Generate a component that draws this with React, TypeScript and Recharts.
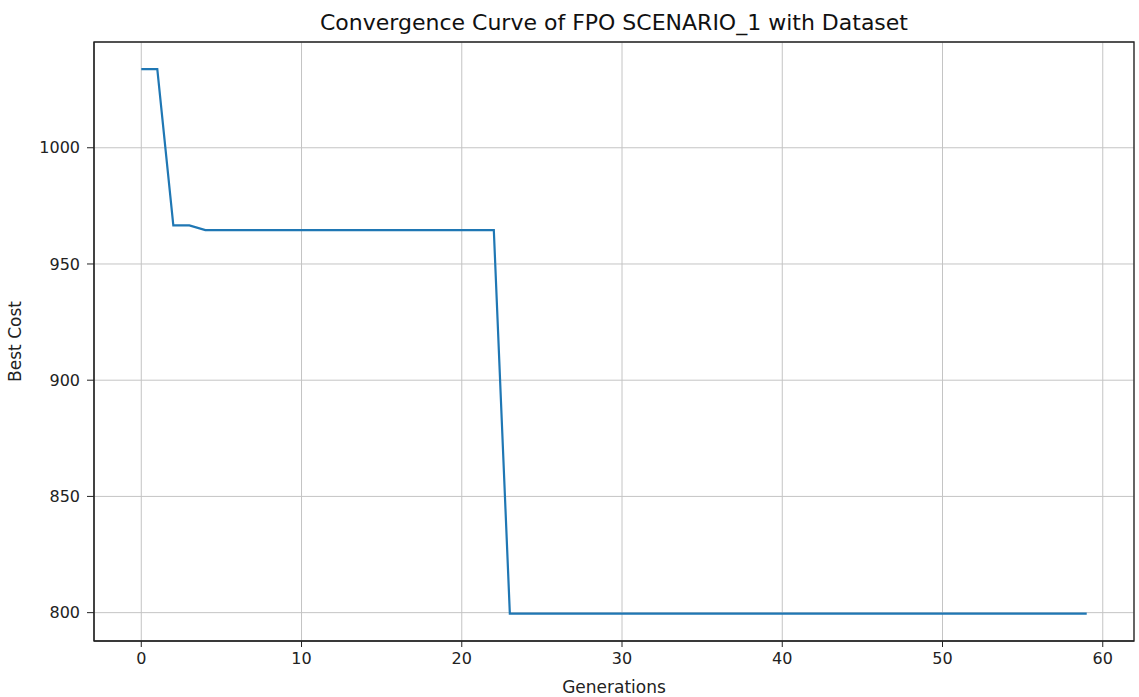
import { LineChart, Line, XAxis, YAxis, CartesianGrid, ReferenceArea, Label } from 'recharts'

// best cost per generation
const bestCost = [
  1033.8, 1033.8, 966.6, 966.6, 964.6, 964.6, 964.6, 964.6, 964.6, 964.6,
  964.6, 964.6, 964.6, 964.6, 964.6, 964.6, 964.6, 964.6, 964.6, 964.6,
  964.6, 964.6, 964.6, 799.6, 799.6, 799.6, 799.6, 799.6, 799.6, 799.6,
  799.6, 799.6, 799.6, 799.6, 799.6, 799.6, 799.6, 799.6, 799.6, 799.6,
  799.6, 799.6, 799.6, 799.6, 799.6, 799.6, 799.6, 799.6, 799.6, 799.6,
  799.6, 799.6, 799.6, 799.6, 799.6, 799.6, 799.6, 799.6, 799.6, 799.6,
]
const xTicks = [0, 10, 20, 30, 40, 50, 60]
const yTicks = [800, 850, 900, 950, 1000]
const X_DOMAIN: [number, number] = [-2.95, 61.95]
const Y_DOMAIN: [number, number] = [787.8, 1045.5]

const chartData = bestCost.map((cost, gen) => ({ gen, cost }))

const FONT = '"DejaVu Sans", sans-serif'
const tickStyle = { fill: '#222', fontSize: 16, fontFamily: FONT }

export default function App() {
  return (
    <div style={{ position: 'absolute', left: 0, top: 0, width: 1139, height: 697, background: '#fff' }}>
      <div
        style={{
          position: 'absolute', left: 94, top: 10, width: 1040, textAlign: 'center',
          fontFamily: FONT, fontSize: 22, color: '#111', lineHeight: '26px',
        }}
      >
        Convergence Curve of FPO SCENARIO_1 with Dataset
      </div>
      <LineChart width={1139} height={697} data={chartData} margin={{ top: 42, right: 5, bottom: 0, left: 0 }}>
        <CartesianGrid stroke="#c4c4c4" strokeWidth={1} />
        <XAxis
          type="number" dataKey="gen" domain={X_DOMAIN} ticks={xTicks} allowDataOverflow
          height={56} tickSize={6} tickMargin={6} stroke="#222" tick={tickStyle}
        >
          <Label
            content={({ viewBox }: any) => (
              <text x={viewBox.x + viewBox.width / 2} y={693} textAnchor="middle"
                style={{ fontFamily: FONT, fontSize: 17, fill: '#222' }}>
                Generations
              </text>
            )}
          />
        </XAxis>
        <YAxis
          type="number" domain={Y_DOMAIN} ticks={yTicks} allowDataOverflow
          width={94} tickSize={7} tickMargin={7} stroke="#222" tick={tickStyle}
        >
          <Label
            content={({ viewBox }: any) => {
              const cy = viewBox.y + viewBox.height / 2
              return (
                <text x={21} y={cy} textAnchor="middle" transform={`rotate(-90 21 ${cy})`}
                  style={{ fontFamily: FONT, fontSize: 17, fill: '#222' }}>
                  Best Cost
                </text>
              )
            }}
          />
        </YAxis>
        <ReferenceArea x1={X_DOMAIN[0]} x2={X_DOMAIN[1]} y1={Y_DOMAIN[0]} y2={Y_DOMAIN[1]}
          fill="none" stroke="#222" strokeWidth={1.3} fillOpacity={0} />
        <Line type="linear" dataKey="cost" stroke="#1f77b4" strokeWidth={2.2} dot={false} isAnimationActive={false} />
      </LineChart>
    </div>
  )
}
